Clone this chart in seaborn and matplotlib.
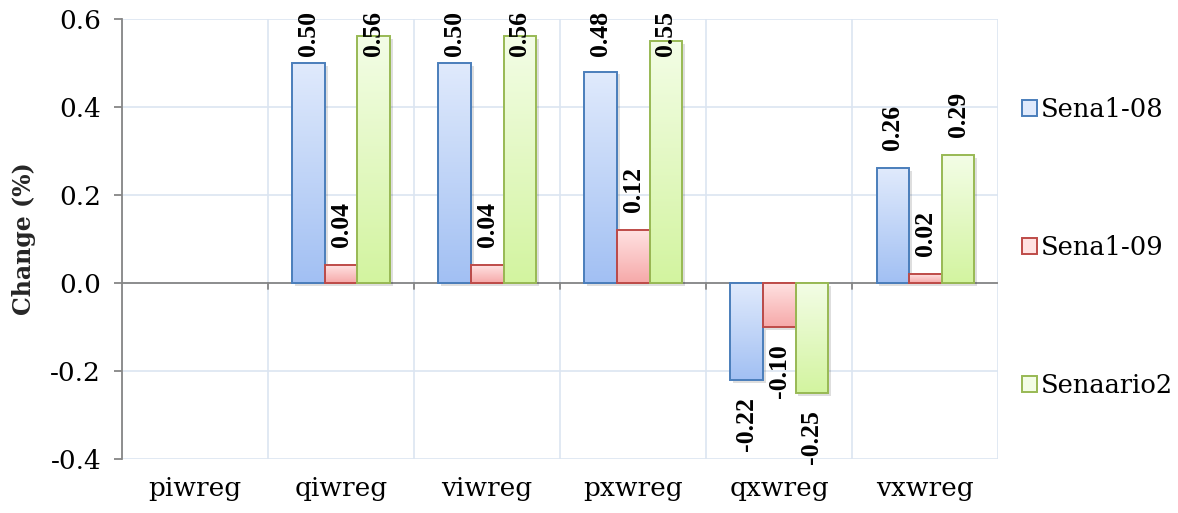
import numpy as np
import pandas as pd
import matplotlib
matplotlib.use("Agg")
import matplotlib.pyplot as plt
import matplotlib.patheffects as pe
from matplotlib.patches import Rectangle, Patch
from matplotlib.colors import to_rgb
import seaborn as sns

# Data
categories = ["piwreg", "qiwreg", "viwreg", "pxwreg", "qxwreg", "vxwreg"]
series = ["Sena1-08", "Sena1-09", "Senaario2"]
sena1_08 = [0.0, 0.50, 0.50, 0.48, -0.22, 0.26]
sena1_09 = [0.0, 0.04, 0.04, 0.12, -0.10, 0.02]
senaario2 = [0.0, 0.56, 0.56, 0.55, -0.25, 0.29]
y_ticks = [-0.4, -0.2, 0.0, 0.2, 0.4, 0.6]

df = pd.DataFrame({
    "category": categories * 3,
    "series": [series[0]] * 6 + [series[1]] * 6 + [series[2]] * 6,
    "value": sena1_08 + sena1_09 + senaario2,
})

# Styling: edge colour, light (top) and dark (bottom) gradient stops
styles = {
    "Sena1-08": ("#4a7ebb", "#e0eafc", "#a2c0f3"),
    "Sena1-09": ("#be4b48", "#ffe2e2", "#f6a9a9"),
    "Senaario2": ("#98b954", "#f3fde6", "#d3f4a0"),
}

sns.set_theme(style="white")
plt.rcParams["font.family"] = ["DejaVu Serif"]
plt.rcParams["text.color"] = "black"
plt.rcParams["xtick.color"] = "black"
plt.rcParams["ytick.color"] = "black"

fig = plt.figure(figsize=(11.78, 5.13), dpi=100)
ax = fig.add_axes([0.1036, 0.1053, 0.744, 0.858])

sns.barplot(data=df, x="category", y="value", hue="series", order=categories,
            hue_order=series, width=0.67, ax=ax, legend=False,
            palette=[styles[s][2] for s in series], saturation=1)

ymin, ymax = -0.4, 0.6
ax.set_xlim(-0.5, len(categories) - 0.5)
ax.set_ylim(ymin, ymax)

# pixel -> data conversion for label offsets
px = (ymax - ymin) / ax.bbox.height
gap_pos, gap_neg = 18 * px, 17 * px
label_top_limit = ymax - 37 * px  # keeps tall labels inside the figure

label_font = dict(family="Liberation Serif", fontsize=18.5, fontweight="bold",
                  color="black", rotation=90, ha="center", zorder=4)

for cont, name in zip(ax.containers, series):
    edge, top_c, bot_c = styles[name]
    grad = np.linspace(to_rgb(top_c), to_rgb(bot_c), 64).reshape(64, 1, 3)
    for bar, val in zip(cont.patches, cont.datavalues):
        x, w = bar.get_x(), bar.get_width()
        y, h = bar.get_y(), bar.get_height()
        bar.set_edgecolor("none")
        bar.set_zorder(2)
        bar.set_path_effects([pe.SimplePatchShadow(offset=(2, -2),
                                                   shadow_rgbFace="#000000",
                                                   alpha=0.13)])
        y0, y1 = min(y, y + h), max(y, y + h)
        if y1 - y0 <= 0:
            continue
        im = ax.imshow(grad, extent=[x, x + w, y0, y1], aspect="auto",
                       origin="upper", zorder=2.5, interpolation="bilinear")
        im.set_clip_path(bar)
        ax.add_patch(Rectangle((x, y0), w, y1 - y0, fill=False,
                               edgecolor=edge, linewidth=1.4, zorder=3))
        if val > 0:
            ty = min(y1 + gap_pos, label_top_limit)
            ax.text(x + w / 2, ty, f"{val:.2f}", va="bottom", **label_font)
        elif val < 0:
            ax.text(x + w / 2, y0 - gap_neg, f"{val:.2f}", va="top", **label_font)

ax.set_xlim(-0.5, len(categories) - 0.5)
ax.set_ylim(ymin, ymax)

# Grid: horizontal at y ticks, vertical at category boundaries
grid_c = "#dbe5f1"
ax.set_yticks(y_ticks)
ax.set_yticklabels([f"{t:.1f}" for t in y_ticks], fontsize=19)
ax.set_xticks(range(len(categories)))
ax.set_xticklabels(categories, fontsize=19)
ax.set_xticks(np.arange(-0.5, len(categories)), minor=True)
ax.yaxis.grid(True, color=grid_c, linewidth=1.2, zorder=0)
ax.xaxis.grid(True, which="minor", color=grid_c, linewidth=1.2, zorder=0)
ax.xaxis.grid(False, which="major")
ax.set_axisbelow(True)

for s in ["top", "right", "bottom"]:
    ax.spines[s].set_visible(False)
ax.spines["left"].set_color("#868686")
ax.spines["left"].set_linewidth(1.3)
ax.axhline(0, color="#868686", linewidth=1.3, zorder=1.5)

ax.tick_params(axis="y", which="major", left=True, length=6, width=1.3,
               color="#868686", pad=9)
ax.tick_params(axis="x", which="major", bottom=False, length=0, pad=12)
ax.tick_params(axis="x", which="minor", bottom=False)
# tick marks on the zero line at category boundaries
for b in np.arange(0.5, len(categories) - 0.5):
    ax.plot([b, b], [0, -6 * px], color="#868686", linewidth=1.3, zorder=1.5,
            clip_on=False)

ax.set_xlabel("")
ax.set_ylabel("Change (%)", fontsize=17, fontweight="bold", labelpad=10)

handles = [Patch(facecolor=styles[s][1], edgecolor=styles[s][0], linewidth=1.4)
           for s in series]
leg = ax.legend(handles, series, loc="center left",
                bbox_to_anchor=(1.0, 0.48), frameon=False, fontsize=18.5,
                handlelength=0.6, handleheight=0.6, handletextpad=0.15,
                labelspacing=4.4, borderaxespad=0.5)

fig.savefig("out.png", dpi=100)
